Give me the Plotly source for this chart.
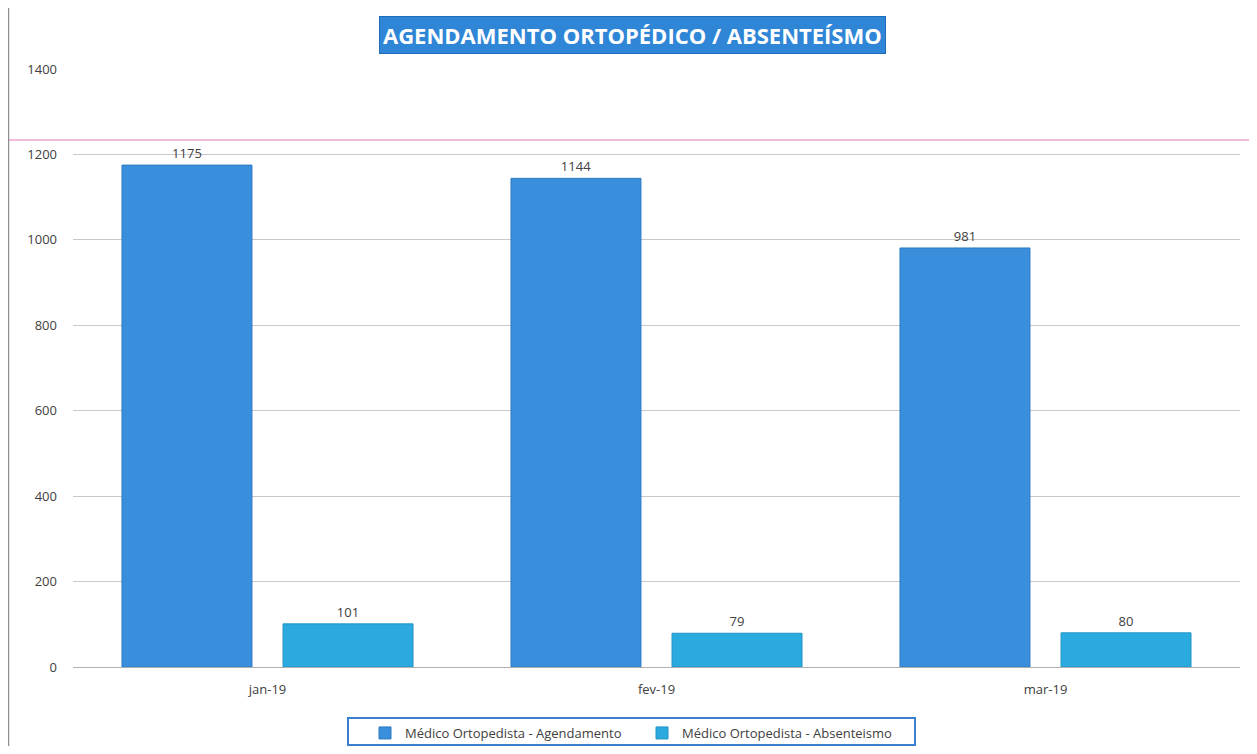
import plotly.graph_objects as go

categories = ["jan-19", "fev-19", "mar-19"]
agendamento = [1175, 1144, 981]
absenteismo = [101, 79, 80]
series_names = ["Médico Ortopedista - Agendamento", "Médico Ortopedista - Absenteismo"]
y_ticks = [0, 200, 400, 600, 800, 1000, 1200, 1400]
title_text = "AGENDAMENTO ORTOPÉDICO / ABSENTEÍSMO"

OFF = 8  # page body margin
W, H = 1257 - 2 * OFF, 754 - 2 * OFF
L, R, T, B = 65, 9, 61, 79
pw, ph = W - L - R, H - T - B

def px_x(s):
    return (s - OFF - L) / pw

def px_y(s):
    return (H - B - (s - OFF)) / ph

font_fam = "Open Sans, Noto Sans, sans-serif"

fig = go.Figure()
fig.add_trace(go.Bar(
    x=categories, y=agendamento, name=series_names[0],
    marker=dict(color="#3A8FDC", line=dict(color="#2D79C0", width=1)),
    text=[str(v) for v in agendamento], textposition="outside",
    textfont=dict(size=13, color="#404040", family=font_fam),
    cliponaxis=False,
))
fig.add_trace(go.Bar(
    x=categories, y=absenteismo, name=series_names[1],
    marker=dict(color="#2BAAE0", line=dict(color="#2094C4", width=1)),
    text=[str(v) for v in absenteismo], textposition="outside",
    textfont=dict(size=13, color="#404040", family=font_fam),
    cliponaxis=False,
))

fig.update_layout(
    width=W, height=H,
    margin=dict(l=L, r=R, t=T, b=B, autoexpand=False),
    paper_bgcolor="white", plot_bgcolor="white",
    barmode="group", bargap=0.172, bargroupgap=0.193,
    font=dict(family=font_fam, size=13, color="#404040"),
    showlegend=True,
    legend=dict(
        orientation="h", x=px_x(642), xanchor="center", y=px_y(733), yanchor="middle",
        borderwidth=0, bgcolor="rgba(0,0,0,0)",
        font=dict(size=13, color="#404040", family=font_fam),
        itemwidth=30, entrywidthmode="pixels", entrywidth=232,
    ),
    xaxis=dict(showgrid=False, showline=True, linecolor="#B0B0B0", linewidth=1,
               ticks="", tickfont=dict(size=13, color="#404040"), ticklabelstandoff=10),
    yaxis=dict(range=[0, 1400], tickvals=y_ticks, showgrid=True, gridcolor="#C8C8C8",
               gridwidth=1, zeroline=False, showline=False, ticks="",
               tickfont=dict(size=13, color="#404040"), ticklabelstandoff=15),
    shapes=[
        dict(type="line", xref="paper", yref="paper", x0=px_x(0), x1=px_x(1257), y0=px_y(140), y1=px_y(140),
             line=dict(color="#F0BCD6", width=2)),
        dict(type="line", xref="paper", yref="paper", x0=px_x(OFF + 0.5), x1=px_x(OFF + 0.5), y0=px_y(OFF), y1=px_y(754),
             line=dict(color="#909090", width=1.5)),
        dict(type="rect", xref="paper", yref="paper", x0=px_x(348), x1=px_x(915), y0=px_y(718), y1=px_y(745),
             line=dict(color="#3A7FD0", width=2), fillcolor="rgba(0,0,0,0)", layer="below"),
    ],
    annotations=[
        dict(text="<b>" + title_text + "</b>", xref="paper", yref="paper",
             x=px_x(632), y=px_y(35), xanchor="center", yanchor="middle", showarrow=False,
             font=dict(size=22, color="white", family=font_fam),
             bgcolor="#2F86D6", bordercolor="#1F6DB8", borderwidth=1, borderpad=3),
    ],
)

fig.write_html("out.html")
